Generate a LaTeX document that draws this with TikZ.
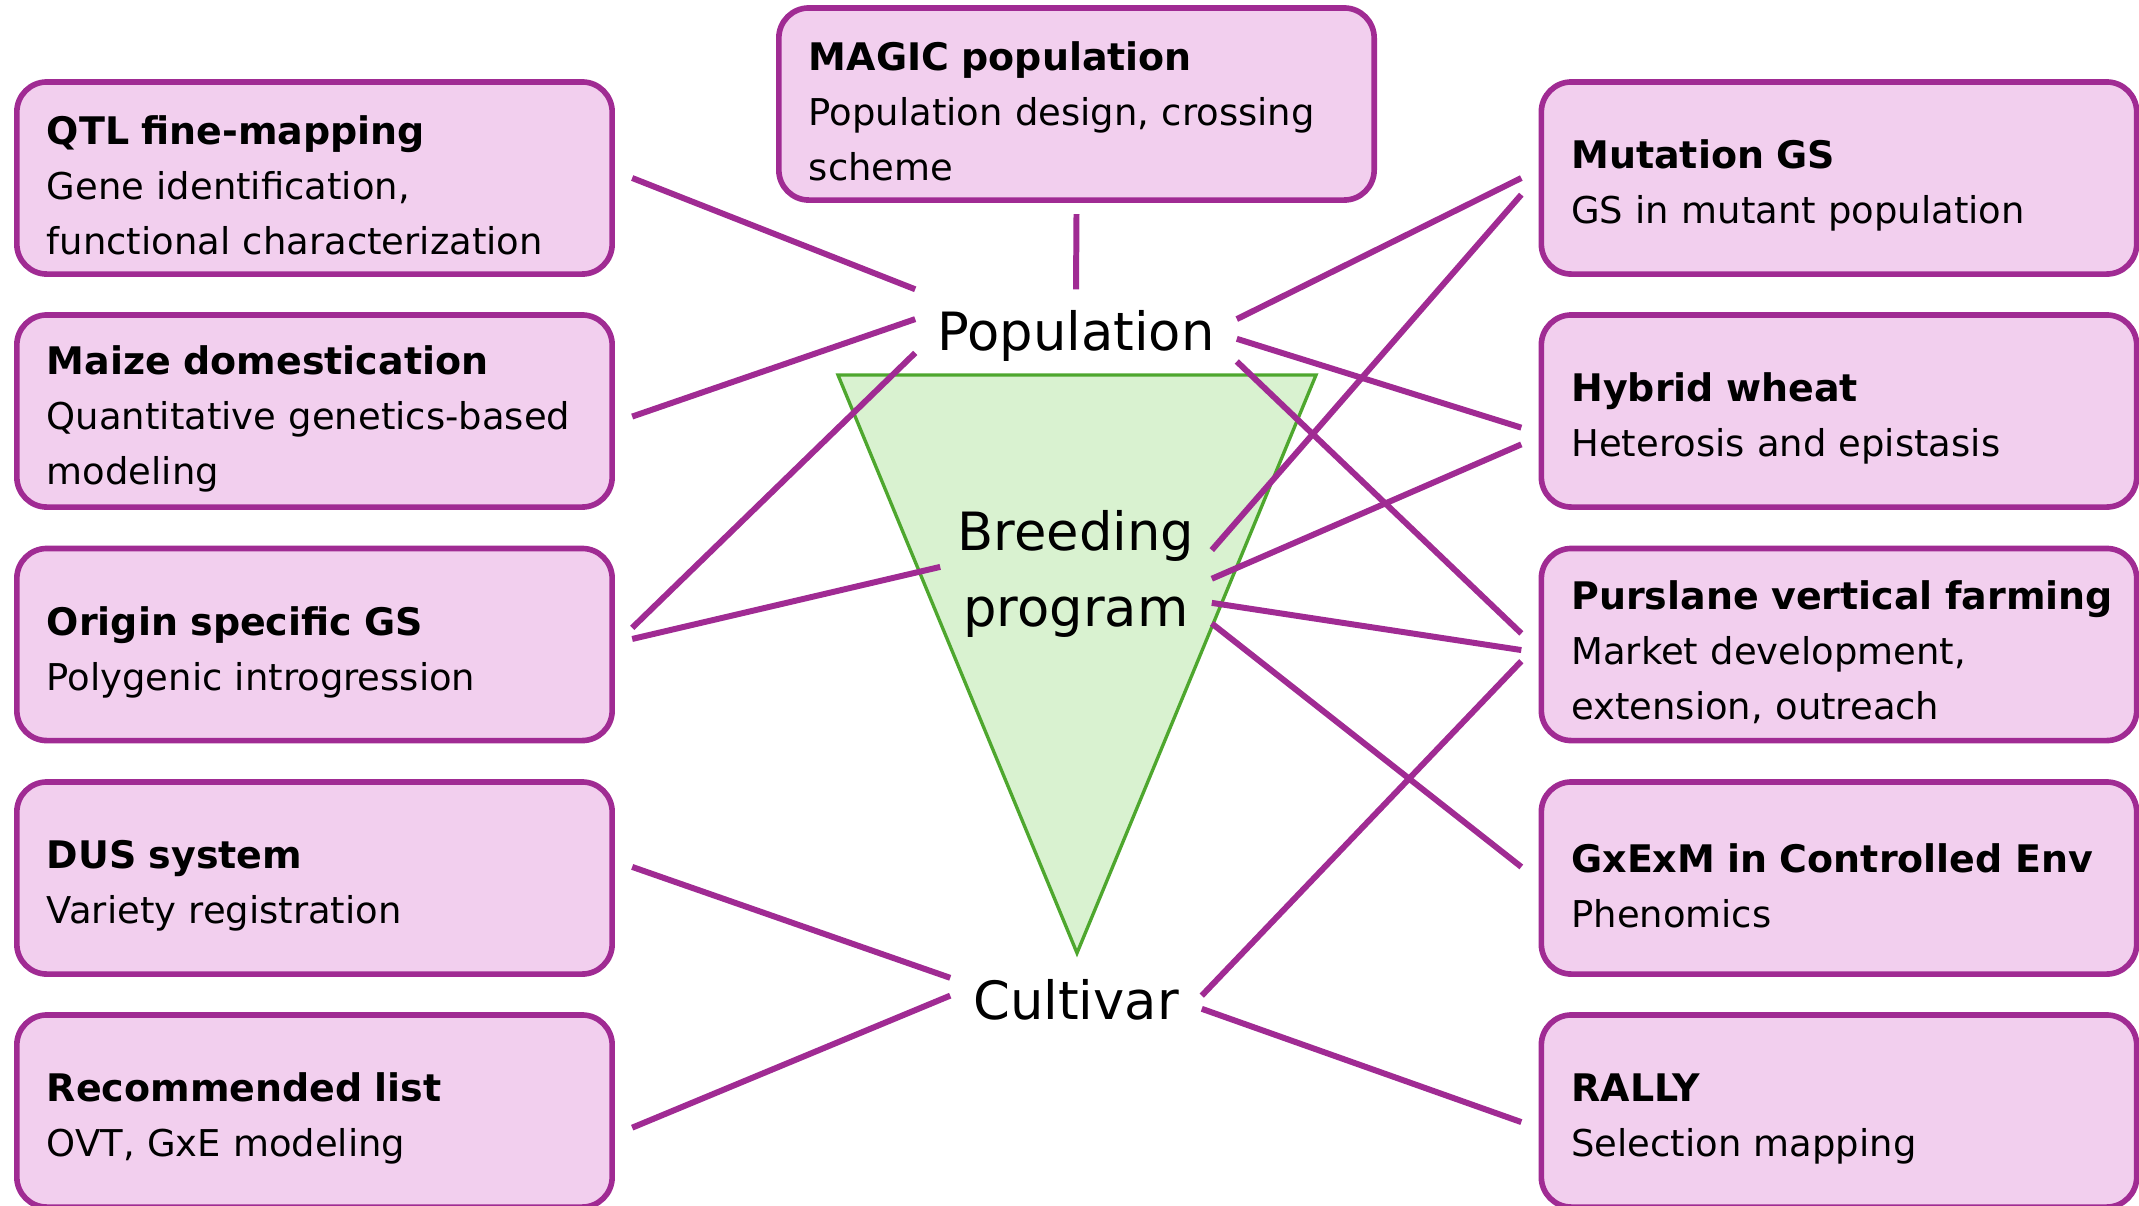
\documentclass[tikz,border=0pt]{standalone}
\usepackage{fontspec}
\setmainfont{DejaVu Sans}

\definecolor{boxline}{HTML}{A02B93}
\definecolor{boxfill}{HTML}{F2CFEE}
\definecolor{triline}{HTML}{4EA72E}
\definecolor{trifill}{HTML}{D9F2D0}

% title line of a box (the tall strut pushes the block down a bit)
\newcommand{\boxtitle}[1]{\rule{0pt}{0.44cm}\mbox{\fontsize{10.8}{15.6}\selectfont\bfseries #1}}

\begin{document}
\begin{tikzpicture}[
    x=0.01cm, y=-0.01cm,
    topic/.style={draw=boxline, line width=1.6pt, fill=boxfill,
      rounded corners=0.3cm, minimum width=5.95cm, minimum height=1.92cm,
      text width=5.35cm, inner xsep=0.3cm, align=left, outer sep=0.2cm,
      font=\fontsize{10.5}{15.6}\selectfont},
    stage/.style={inner sep=0pt, align=center,
      font=\fontsize{15}{21.6}\selectfont},
    link/.style={draw=boxline, line width=1.7pt}]

    \useasboundingbox (0,0) rectangle (2139,1205);

    % funnel
    \filldraw[fill=trifill, draw=triline, line width=0.95pt]
      (838,375) -- (1316,375) -- (1077,953) -- cycle;

    % stages

    \node[stage, minimum width=3.2cm, minimum height=0.92cm] (pop) at (1076,336) {Population};
    \node[stage, minimum width=2.7cm, minimum height=1.3cm] (breed) at (1076,574) {Breeding\\program};
    \node[stage, minimum width=2.5cm, minimum height=0.6cm] (cult) at (1076,1000) {Cultivar};

    % topics

    \node[topic, outer sep=0.14cm] (magic) at (1076.5,104) {\boxtitle{MAGIC population}\\Population design, crossing\\scheme};

    \node[topic] (qtl) at (314.5,178) {\boxtitle{QTL fine-mapping}\\Gene identification,\\functional characterization};
    \node[topic] (maize) at (314.5,411) {\boxtitle{Maize domestication}\\Quantitative genetics-based\\modeling};
    \node[topic] (origin) at (314.5,644.5) {\boxtitle{Origin specific GS}\\Polygenic introgression};
    \node[topic] (dus) at (314.5,878) {\boxtitle{DUS system}\\Variety registration};
    \node[topic] (reclist) at (314.5,1111) {\boxtitle{Recommended list}\\OVT, GxE modeling};

    \node[topic] (mutgs) at (1839,178) {\boxtitle{Mutation GS}\\GS in mutant population};
    \node[topic] (hybrid) at (1839,411) {\boxtitle{Hybrid wheat}\\Heterosis and epistasis};
    \node[topic] (purslane) at (1839,644.5) {\boxtitle{Purslane vertical farming}\\Market development,\\extension, outreach};
    \node[topic] (gxexm) at (1839,878) {\boxtitle{GxExM in Controlled Env}\\Phenomics};
    \node[topic] (rally) at (1839,1111) {\boxtitle{RALLY}\\Selection mapping};

    % edges

    \draw[link] (magic.south) to (pop.north);
    \draw[link] (qtl.east) to (pop.north west);
    \draw[link] (maize.-1) to (pop.174);
    \draw[link] (origin.3) to (pop.186);
    \draw[link] (origin.1) to (breed.177);
    \draw[link] (dus.2) to (cult.170);
    \draw[link] (reclist.-3) to (cult.178);

    \draw[link] (pop.6) to (mutgs.west);
    \draw[link] (pop.-1) to (hybrid.183);
    \draw[link] (pop.-9) to (purslane.178);
    \draw[link] (breed.10) to (mutgs.183);
    \draw[link] (breed.-2) to (hybrid.186);
    \draw[link] (breed.-12) to (purslane.181);
    \draw[link] (breed.-20) to (gxexm.178);
    \draw[link] (cult.2) to (purslane.183);
    \draw[link] (cult.-4) to (rally.182);
  \end{tikzpicture}
\end{document}
